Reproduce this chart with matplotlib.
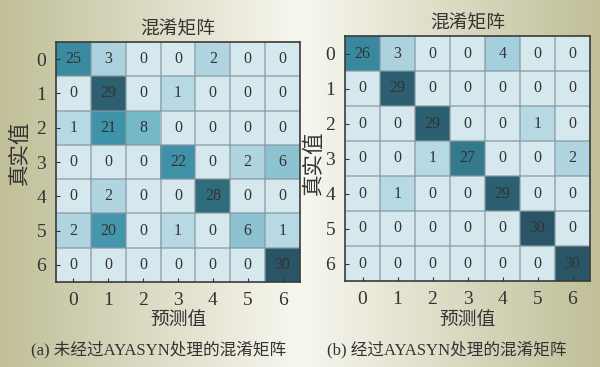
import numpy as np
import matplotlib
matplotlib.use("Agg")
import matplotlib.pyplot as plt
from matplotlib.colors import LinearSegmentedColormap

FONT = ["Liberation Serif", "Noto Sans CJK SC", "DejaVu Sans"]
plt.rcParams["font.family"] = FONT

CLASSES = [0, 1, 2, 3, 4, 5, 6]
CM_RAW = [
    [25, 3, 0, 0, 2, 0, 0],
    [0, 29, 0, 1, 0, 0, 0],
    [1, 21, 8, 0, 0, 0, 0],
    [0, 0, 0, 22, 0, 2, 6],
    [0, 2, 0, 0, 28, 0, 0],
    [2, 20, 0, 1, 0, 6, 1],
    [0, 0, 0, 0, 0, 0, 30],
]
CM_AYASYN = [
    [26, 3, 0, 0, 4, 0, 0],
    [0, 29, 0, 0, 0, 0, 0],
    [0, 0, 29, 0, 0, 1, 0],
    [0, 0, 1, 27, 0, 0, 2],
    [0, 1, 0, 0, 29, 0, 0],
    [0, 0, 0, 0, 0, 30, 0],
    [0, 0, 0, 0, 0, 0, 30],
]
TITLE = "混淆矩阵"
XLABEL = "预测值"
YLABEL = "真实值"
CAPTIONS = ["(a) 未经过AYASYN处理的混淆矩阵", "(b) 经过AYASYN处理的混淆矩阵"]

# teal ramp, steep at the low end so small counts still show
cmap = LinearSegmentedColormap.from_list("teal", [
    (0.0, "#d5e8ee"), (1 / 30, "#b6d9e4"), (4 / 30, "#a5cfdc"),
    (8 / 30, "#75b8c6"), (21 / 30, "#3f94a9"), (26 / 30, "#3a889e"),
    (28 / 30, "#2f6c7c"), (1.0, "#2a5566"),
])

W, H = 600, 367
fig = plt.figure(figsize=(W / 100, H / 100), dpi=100)

# khaki-to-white page background
bg = fig.add_axes([0, 0, 1, 1], zorder=-10)
x = np.linspace(0, 1, 600)
t = np.abs(x - 0.5) * 2
khaki = np.array([192, 191, 152]) / 255
white = np.array([248, 247, 240]) / 255
row = white[None, :] * (1 - t[:, None]) + khaki[None, :] * t[:, None]
bg.imshow(row[None, :, :], aspect="auto", extent=[0, 1, 0, 1])
bg.axis("off")


def fy(y0):
    return 1 - y0 / H


def matrix(rect, cm, title_y, cap, cap_x, ylab_x, ylab_y):
    ax = fig.add_axes(rect)
    M = np.array(cm)
    ax.imshow(M, cmap=cmap, vmin=0, vmax=30, aspect="auto")
    n = len(CLASSES)
    for i in range(n):
        for j in range(n):
            ax.text(j, i, str(M[i, j]), ha="center", va="center",
                    fontsize=11.5, color="#333333")
    for k in range(1, n):
        ax.axhline(k - 0.5, color="#8797a0", lw=1.1, alpha=0.8)
        ax.axvline(k - 0.5, color="#8797a0", lw=1.1, alpha=0.8)
    ax.set_xticks(range(n)); ax.set_xticklabels(CLASSES)
    ax.set_yticks(range(n)); ax.set_yticklabels(CLASSES)
    ax.tick_params(direction="in", length=3, width=0.8, labelsize=14,
                   colors="#333333", pad=7)
    for s in ax.spines.values():
        s.set_color("#3a3a3a"); s.set_linewidth(1.2)
    l, b, w, h = rect
    cx = l + w / 2
    fig.text(cx, title_y, TITLE, ha="center", va="center", fontsize=13.5,
             color="#333333")
    fig.text(cx, fy(320), XLABEL, ha="center", va="center",
             fontsize=13.5, color="#333333")
    fig.text(ylab_x, ylab_y, YLABEL, ha="center", va="center", fontsize=15.5,
             rotation=90, color="#333333")
    fig.text(cap_x, fy(350), cap, ha="center", va="center",
             fontsize=12, color="#333333")
    return ax


matrix([56 / W, 1 - 282 / H, 244 / W, 240 / H], CM_RAW, fy(30),
       CAPTIONS[0], 159 / W, 21 / W, fy(153))
matrix([345 / W, 1 - 281 / H, 245 / W, 245 / H], CM_AYASYN, fy(24),
       CAPTIONS[1], 447 / W, 315 / W, fy(163))

fig.savefig("out.png", dpi=100)
